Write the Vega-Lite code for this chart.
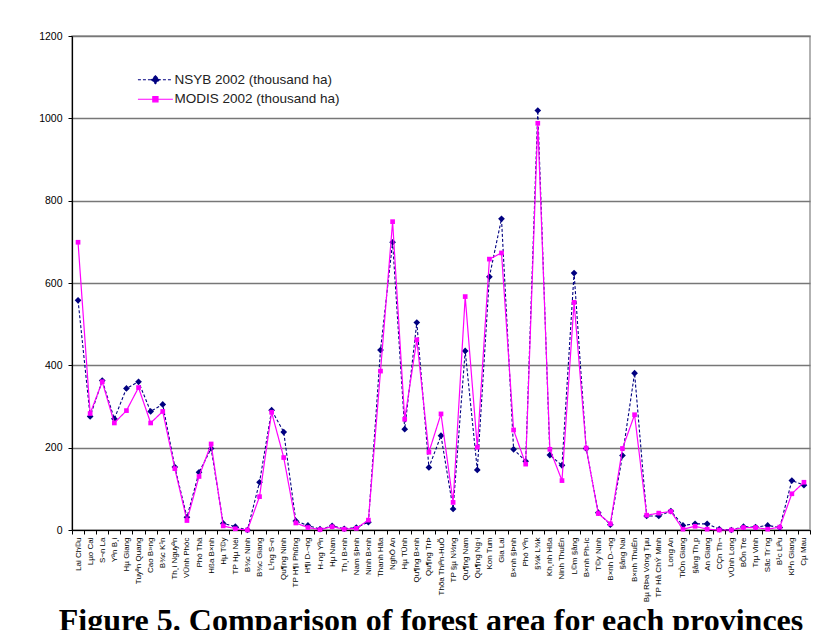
{
  "$schema": "https://vega.github.io/schema/vega-lite/v6.json",
  "width": 738,
  "height": 494,
  "autosize": {"type": "none"},
  "padding": {"left": 72, "top": 36, "right": 30, "bottom": 100},
  "background": "white",
  "title": {
    "text": "Figure 5. Comparison of forest area for each provinces",
    "orient": "bottom",
    "anchor": "middle",
    "font": "Liberation Serif",
    "fontSize": 32,
    "fontWeight": "bold",
    "color": "black",
    "offset": 4,
    "dx": -10
  },
  "config": {
    "view": {"stroke": "#999999", "strokeWidth": 1.5},
    "axis": {"labelFont": "Liberation Sans", "labelColor": "black", "tickColor": "black", "domainColor": "black", "titleFont": "Liberation Sans"}
  },
  "data": {
    "values": [
      {"p": "Lai Ch©u", "NSYB": 558, "MODIS": 699},
      {"p": "Lµo Cai", "NSYB": 276, "MODIS": 283},
      {"p": "S¬n La", "NSYB": 363, "MODIS": 360},
      {"p": "Yªn B¸i", "NSYB": 270, "MODIS": 260},
      {"p": "Hµ Giang", "NSYB": 344, "MODIS": 290},
      {"p": "Tuyªn Quang", "NSYB": 360, "MODIS": 346},
      {"p": "Cao B»ng", "NSYB": 288, "MODIS": 260},
      {"p": "B¾c K¹n", "NSYB": 305, "MODIS": 288},
      {"p": "Th¸i Nguyªn", "NSYB": 153, "MODIS": 149},
      {"p": "VÜnh Phóc", "NSYB": 31, "MODIS": 23},
      {"p": "Phó Thä", "NSYB": 140, "MODIS": 130},
      {"p": "Hßa B×nh", "NSYB": 198, "MODIS": 209},
      {"p": "Hµ T©y", "NSYB": 16, "MODIS": 10},
      {"p": "TP Hµ Néi", "NSYB": 8, "MODIS": 3},
      {"p": "B¾c Ninh", "NSYB": 0, "MODIS": 0},
      {"p": "B¾c Giang", "NSYB": 116, "MODIS": 81},
      {"p": "L¹ng S¬n", "NSYB": 291, "MODIS": 286},
      {"p": "Qu¶ng Ninh", "NSYB": 238, "MODIS": 176},
      {"p": "TP H¶i Phßng", "NSYB": 22, "MODIS": 17},
      {"p": "H¶i D-¬ng", "NSYB": 11, "MODIS": 6},
      {"p": "H-ng Yªn", "NSYB": 2, "MODIS": 1},
      {"p": "Hµ Nam", "NSYB": 10, "MODIS": 8},
      {"p": "Th¸i B×nh", "NSYB": 3, "MODIS": 2},
      {"p": "Nam §Þnh", "NSYB": 6, "MODIS": 4},
      {"p": "Ninh B×nh", "NSYB": 19, "MODIS": 24},
      {"p": "Thanh Hãa", "NSYB": 437, "MODIS": 386},
      {"p": "NghÖ An", "NSYB": 699, "MODIS": 749},
      {"p": "Hµ TÜnh", "NSYB": 245, "MODIS": 269},
      {"p": "Qu¶ng B×nh", "NSYB": 504, "MODIS": 462},
      {"p": "Qu¶ng TrÞ", "NSYB": 152, "MODIS": 189},
      {"p": "Thõa Thiªn-HuÕ", "NSYB": 229, "MODIS": 282},
      {"p": "TP §µ N½ng", "NSYB": 51, "MODIS": 67},
      {"p": "Qu¶ng Nam", "NSYB": 435, "MODIS": 567},
      {"p": "Qu¶ng Ng·i", "NSYB": 146, "MODIS": 201},
      {"p": "Kon Tum", "NSYB": 615, "MODIS": 658},
      {"p": "Gia Lai", "NSYB": 756, "MODIS": 673},
      {"p": "B×nh §Þnh", "NSYB": 196, "MODIS": 243},
      {"p": "Phó Yªn", "NSYB": 167, "MODIS": 160},
      {"p": "§¾k L¾k", "NSYB": 1019, "MODIS": 988},
      {"p": "Kh¸nh Hßa", "NSYB": 182, "MODIS": 196},
      {"p": "Ninh ThuËn", "NSYB": 157, "MODIS": 120},
      {"p": "L©m §ång", "NSYB": 624, "MODIS": 553},
      {"p": "B×nh Ph-íc", "NSYB": 198, "MODIS": 199},
      {"p": "T©y Ninh", "NSYB": 42, "MODIS": 40},
      {"p": "B×nh D-¬ng", "NSYB": 13, "MODIS": 15},
      {"p": "§ång Nai", "NSYB": 181, "MODIS": 198},
      {"p": "B×nh ThuËn", "NSYB": 381, "MODIS": 280},
      {"p": "Bµ RÞa Vòng Tµu", "NSYB": 34, "MODIS": 36},
      {"p": "TP Hå ChÝ Minh", "NSYB": 34, "MODIS": 41},
      {"p": "Long An", "NSYB": 46, "MODIS": 45},
      {"p": "TiÒn Giang", "NSYB": 11, "MODIS": 2},
      {"p": "§ång Th¸p", "NSYB": 15, "MODIS": 9},
      {"p": "An Giang", "NSYB": 15, "MODIS": 2},
      {"p": "CÇn Th¬", "NSYB": 2, "MODIS": 0},
      {"p": "VÜnh Long", "NSYB": 0, "MODIS": 0},
      {"p": "BÕn Tre", "NSYB": 8, "MODIS": 6},
      {"p": "Trµ Vinh", "NSYB": 7, "MODIS": 6},
      {"p": "Sãc Tr¨ng", "NSYB": 11, "MODIS": 2},
      {"p": "B¹c Liªu", "NSYB": 6, "MODIS": 7},
      {"p": "Kiªn Giang", "NSYB": 120, "MODIS": 88},
      {"p": "Cµ Mau", "NSYB": 109, "MODIS": 116}
    ]
  },
  "encoding": {
    "x": {
      "field": "p",
      "type": "nominal",
      "sort": null,
      "bandPosition": 0.5,
      "scale": {"type": "band", "paddingInner": 0, "paddingOuter": 0},
      "axis": {
        "title": null,
        "labelAngle": -90,
        "labelFontSize": 8,
        "labelPadding": 3,
        "tickBand": "extent",
        "tickSize": 4,
        "labelOverlap": false,
        "labelLimit": 0,
        "domainWidth": 1.2
      }
    }
  },
  "layer": [
    {
      "mark": {"type": "line", "strokeWidth": 1.1},
      "encoding": {
        "y": {
          "field": "NSYB",
          "type": "quantitative",
          "scale": {"domain": [0, 1200]},
          "axis": {
            "title": null,
            "values": [0, 200, 400, 600, 800, 1000, 1200],
            "format": "d",
            "labelFontSize": 10.5,
            "labelPadding": 6,
            "tickSize": 4,
            "gridColor": "#777777",
            "gridWidth": 1.3,
            "domainWidth": 1.2
          }
        },
        "color": {
          "datum": "NSYB 2002 (thousand ha)",
          "type": "nominal",
          "scale": {"domain": ["NSYB 2002 (thousand ha)", "MODIS 2002 (thousand ha)"], "range": ["#000080", "#ff00ff"]},
          "legend": {
            "title": null,
            "orient": "none",
            "legendX": 65,
            "legendY": 37,
            "padding": 0,
            "labelFont": "Liberation Sans",
            "labelFontSize": 13.5,
            "labelColor": "#222222",
            "labelOffset": 24,
            "labelLimit": 0,
            "rowPadding": 4.5,
            "symbolSize": 136,
            "symbolStrokeWidth": 1.1,
            "encode": {
              "symbols": {
                "update": {
                  "shape": {"signal": "datum.value === 'NSYB 2002 (thousand ha)' ? 'M-1,0H5M2,-0.69L2.69,0L2,0.69L1.31,0Z' : 'M-1,0H5M1.55,-0.45H2.45V0.45H1.55Z'"},
                  "fill": {"signal": "datum.value === 'NSYB 2002 (thousand ha)' ? '#000080' : '#ff00ff'"},
                  "opacity": {"value": 1}
                }
              }
            }
          }
        },
        "strokeDash": {
          "datum": "NSYB 2002 (thousand ha)",
          "type": "nominal",
          "scale": {"domain": ["NSYB 2002 (thousand ha)", "MODIS 2002 (thousand ha)"], "range": [[3, 2], [1, 0]]},
          "legend": null
        }
      }
    },
    {
      "mark": {"type": "point", "shape": "diamond", "filled": true, "size": 45, "opacity": 1, "color": "#000080"},
      "encoding": {
        "y": {"field": "NSYB", "type": "quantitative"}
      }
    },
    {
      "mark": {"type": "line", "strokeWidth": 1.2},
      "encoding": {
        "y": {"field": "MODIS", "type": "quantitative"},
        "color": {"datum": "MODIS 2002 (thousand ha)", "type": "nominal"},
        "strokeDash": {"datum": "MODIS 2002 (thousand ha)", "type": "nominal", "legend": null}
      }
    },
    {
      "mark": {"type": "point", "shape": "square", "filled": true, "size": 22, "opacity": 1, "color": "#ff00ff"},
      "encoding": {
        "y": {"field": "MODIS", "type": "quantitative"}
      }
    }
  ]
}
